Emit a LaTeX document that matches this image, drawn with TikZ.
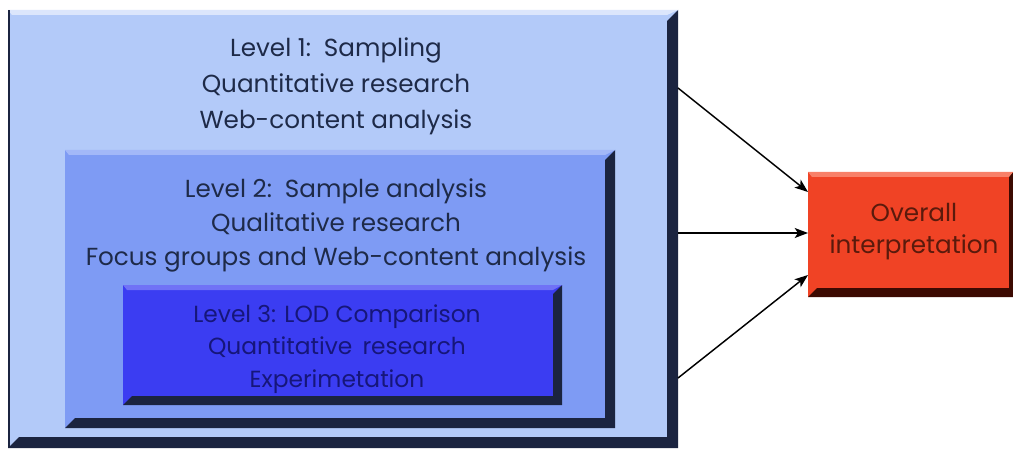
\documentclass[tikz,border=0pt]{standalone}
\usepackage{fontspec}
\setmainfont{Poppins}
\usetikzlibrary{arrows.meta,calc}
\definecolor{lonefc}{HTML}{B3CAF9}
\definecolor{lonelt}{HTML}{DCE6FC}
\definecolor{ltwofc}{HTML}{7E9BF4}
\definecolor{ltwolt}{HTML}{A3B8F8}
\definecolor{lthrfc}{HTML}{3B3DF2}
\definecolor{lthrlt}{HTML}{7072F6}
\definecolor{bdark}{HTML}{1B2440}
\definecolor{rface}{HTML}{F04325}
\definecolor{rlight}{HTML}{F88068}
\definecolor{rdark}{HTML}{3C0A02}
\definecolor{txtone}{HTML}{1E2A48}
\definecolor{txtthr}{HTML}{16167A}
\definecolor{rtxt}{HTML}{5A1A0C}
\newcommand\mybevel[4]{% name, light, dark, d
  \fill[#3] (#1.north east) -- (#1.south east) -- (#1.south west)
    -- ($(#1.south west)+(#4,-#4)$) -- ($(#1.south east)+(-#4,-#4)$)
    -- ($(#1.north east)+(-#4,#4)$) -- cycle;
  \fill[#2] (#1.north west) -- (#1.north east) -- ($(#1.north east)+(-#4,5)$)
    -- ($(#1.north west)+(4,5)$) -- cycle;
}
\tikzset{
  facebox/.style={rectangle, inner sep=0pt, outer sep=0pt, draw=none},
  boxtext/.style={align=center, font=\fontsize{18.5}{27}\selectfont},
  link/.style={draw=black, line width=1.1pt, -{Stealth[length=10pt,width=7.5pt,inset=2.5pt]}}
}
\begin{document}
\begin{tikzpicture}[x=0.75pt,y=-0.75pt]
\useasboundingbox (0,0) rectangle (1013,449);
\fill[white] (0,0) rectangle (1013,449);
% level 1
\node[facebox, fill=lonefc, minimum width={670*0.75pt}, minimum height={438*0.75pt}] (lone) at (343,229) {};
\mybevel{lone}{lonelt}{bdark}{11}
\fill[bdark] (lone.north west) rectangle ($(lone.south west)+(2,0)$);
\node[boxtext, text=txtone] (tone) at (336,86) {Level 1:\, Sampling\\Quantitative research\\Web-content analysis};
% level 2
\node[facebox, fill=ltwofc, minimum width={550*0.75pt}, minimum height={278*0.75pt}] (ltwo) at (340,289) {};
\mybevel{ltwo}{ltwolt}{bdark}{10}
\node[boxtext, text=txtone, font=\fontsize{18.5}{25.5}\selectfont] (ttwo) at (336,225) {Level 2:\, Sample analysis\\Qualitative research\\Focus groups and Web-content analysis};
% level 3
\node[facebox, fill=lthrfc, minimum width={439*0.75pt}, minimum height={120*0.75pt}] (lthr) at (342.5,345) {};
\mybevel{lthr}{lthrlt}{bdark}{9}
\node[boxtext, text=txtthr, font=\fontsize{17.5}{24.5}\selectfont] (tthr) at (337,349) {Level 3: LOD Comparison\\Quantitative\, research\\Experimetation};
% overall
\node[facebox, fill=rface, minimum width={205*0.75pt}, minimum height={125*0.75pt}] (ovr) at (910.5,234.5) {};
\fill[rdark] (ovr.north east) -- (ovr.south east) -- (ovr.south west)
    -- ($(ovr.south west)+(9,-9)$) -- ($(ovr.south east)+(-4,-9)$)
    -- ($(ovr.north east)+(-4,4)$) -- cycle;
\fill[rlight] (ovr.north west) -- (ovr.north east) -- ($(ovr.north east)+(-4,5)$)
    -- ($(ovr.north west)+(4,5)$) -- cycle;
\node[boxtext, text=rtxt, font=\fontsize{18.5}{24}\selectfont] (tovr) at (914,232) {Overall\\interpretation};
% arrows
\coordinate (sa) at (678,88);
\coordinate (sb) at (678,233);
\coordinate (sc) at (678,378);
\draw[link] (sa) -- ($(ovr.north west)+(0,20)$);
\draw[link] (sb) -- (ovr.west |- sb);
\draw[link] (sc) -- ($(ovr.south west)+(0,-22)$);
\end{tikzpicture}
\end{document}
